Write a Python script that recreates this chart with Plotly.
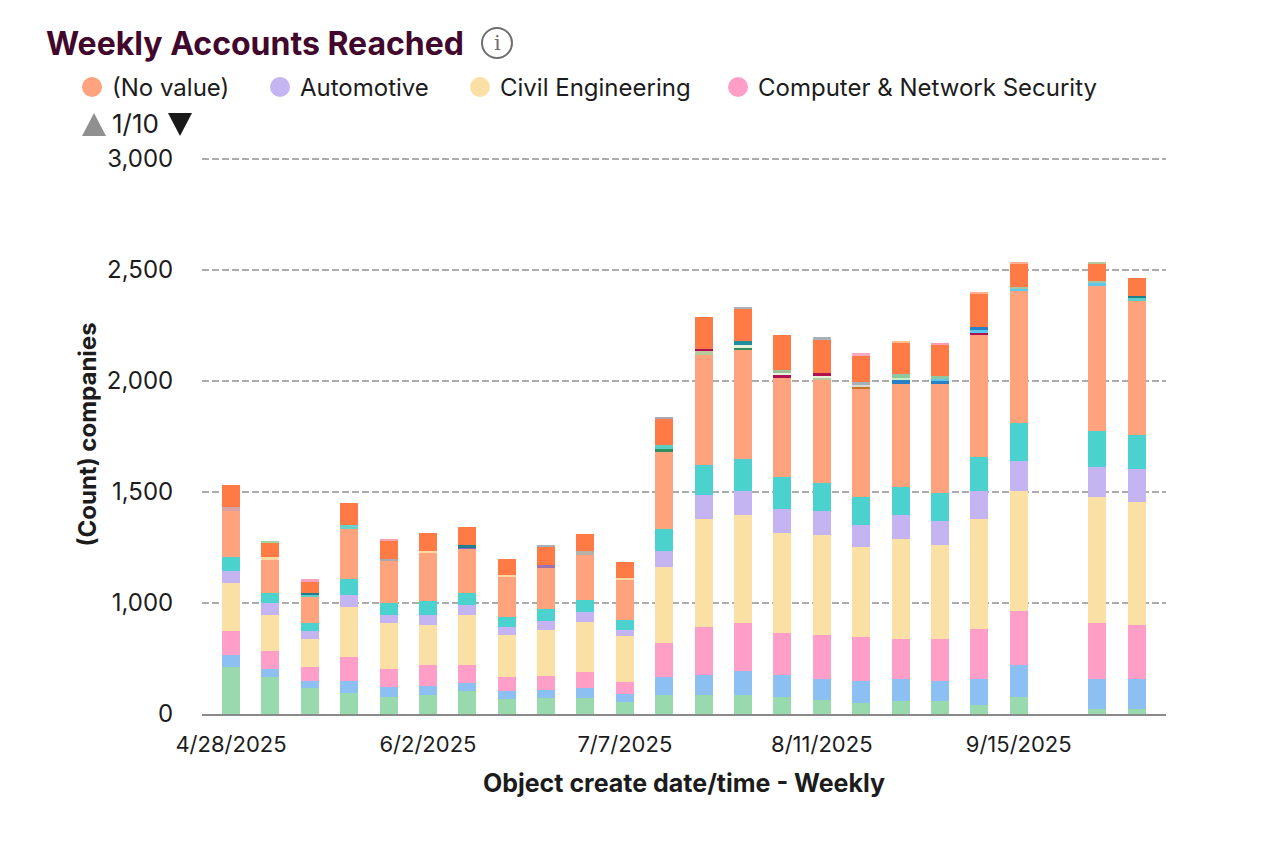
import plotly.graph_objects as go

weeks = ["4/28/2025","5/5/2025","5/12/2025","5/19/2025","5/26/2025","6/2/2025","6/9/2025","6/16/2025",
         "6/23/2025","6/30/2025","7/7/2025","7/14/2025","7/21/2025","7/28/2025","8/4/2025","8/11/2025",
         "8/18/2025","8/25/2025","9/1/2025","9/8/2025","9/15/2025","9/22/2025","9/29/2025","10/6/2025"]
shown_weeks = ["4/28/2025","6/2/2025","7/7/2025","8/11/2025","9/15/2025"]

green = [710,666,618,594,576,586,604,568,574,574,556,586,586,586,576,564,550,558,558,540,576,None,522,522]
blue = [56,36,30,54,45,42,36,36,36,45,36,81,90,108,99,93,99,99,90,117,144,None,135,135]
computer_security = [108,81,63,108,81,93,81,63,63,72,54,153,216,216,189,198,198,180,189,225,243,None,252,243]
civil_engineering = [216,162,126,225,207,180,225,189,206,225,207,342,486,486,450,450,405,450,423,495,540,None,567,555]
automotive = [54,54,36,54,36,45,45,36,38,45,27,72,108,108,108,108,99,108,108,126,135,None,136,147]
teal = [63,45,36,72,54,63,54,45,54,54,45,99,135,144,144,126,126,126,126,154,172,None,161,156]
no_value = [208,153,117,225,189,216,198,180,188,202,180,348,495,490,449,464,485,467,494,548,594,None,657,601]
minor_a = [18,9,9,18,12,9,9,9,14,15,9,12,18,14,12,12,12,18,12,10,12,None,12,16]
minor_b = [0,0,9,0,0,0,9,0,0,0,0,18,9,9,9,9,9,9,9,15,9,None,9,10]
minor_c = [0,0,0,0,0,0,0,0,0,0,0,0,0,21,12,10,12,15,12,12,0,None,0,0]
orange = [98,63,54,99,78,81,81,72,78,80,72,117,144,141,157,153,122,140,140,152,104,None,78,80]
minor_top = [0,9,9,0,9,0,0,0,9,0,0,9,0,9,0,9,9,9,9,9,9,None,9,0]

minor_a_colors = ["#D9A3A3","#FCD9A0","#5CCFC8","#6CCFC8","#A8A8B0","#FCD9A0","#8A62C4","#FCD9A0","#A070B0","#B5B0A8","#FCD9A0",
                  "#2F8F5F","#B9C99C","#2F8F5F","#B0104F","#B9C99C","#C8742A","#2A80C4","#2A80C4","#B0104F","#5CC8EC","#5CC8EC","#5CC8EC","#5CCFC8"]
minor_b_colors = ["#FFFFFF","#FFFFFF","#1F7F8F","#FFFFFF","#FFFFFF","#FFFFFF","#1F7F8F","#FFFFFF","#FFFFFF","#FFFFFF","#FFFFFF",
                  "#5CCFC8","#B0104F","#E8F0D8","#E8F0D8","#E8F0D8","#D8DCD0","#C8EBC8","#5CC8EC","#5CC8EC","#9CC8A8","#FFFFFF","#9CC8A8","#1F7F8F"]
minor_c_colors = ["#FFFFFF"]*13 + ["#1F8F9F","#9CC09C","#B0104F","#A8B0B8","#8CC8A0","#8CC8A0","#2A80C4"] + ["#FFFFFF"]*4
minor_top_colors = ["#FFFFFF","#9CD8A0","#F8A0C0","#FFFFFF","#F8A0B0","#FFFFFF","#FFFFFF","#FFFFFF","#A8B0B8","#FFFFFF","#FFFFFF",
                    "#A8A8B8","#FFFFFF","#A8B0B8","#FFFFFF","#A8B0B8","#F8A8C0","#FFC090","#F8A0B0","#FFB090","#FFB090","#FFFFFF","#B9C99C","#FFFFFF"]

y_tick_positions = [500,1000,1500,2000,2500,3000]
y_tick_labels = ["0","1,000","1,500","2,000","2,500","3,000"]

FONT = "Inter"
INK = "#1c1c1c"

series = [
    ("Green", green, "#98D9AE"),
    ("Blue", blue, "#8CC0F2"),
    ("Computer & Network Security", computer_security, "#FF9FC8"),
    ("Civil Engineering", civil_engineering, "#FBE0A6"),
    ("Automotive", automotive, "#C4B5F2"),
    ("Teal", teal, "#4BD2CE"),
    ("(No value)", no_value, "#FFA27E"),
    ("Minor A", minor_a, minor_a_colors),
    ("Minor B", minor_b, minor_b_colors),
    ("Minor C", minor_c, minor_c_colors),
    ("Orange", orange, "#FF7A45"),
    ("Minor top", minor_top, minor_top_colors),
]

fig = go.Figure()
for name, vals, col in series:
    fig.add_trace(go.Bar(x=weeks, y=vals, name=name, marker=dict(color=col, line=dict(width=0))))

L, R, T, B = 202, 1166, 155, 714
def px(x): return (x - L) / (R - L)
def py(y): return (B - y) / (B - T)

def text(x, y, s, size, color=INK, anchor="left"):
    fig.add_annotation(xref="paper", yref="paper", x=px(x - 3), y=py(y), text=s, showarrow=False,
                       xanchor=anchor, yanchor="middle", font=dict(family=FONT, size=size, color=color))

text(47, 44, "<b>Weekly Accounts Reached</b>", 32, "#42072C")
fig.add_shape(type="circle", xref="paper", yref="paper", x0=px(482), x1=px(512), y0=py(58), y1=py(28),
              line=dict(color="#6E6E6E", width=2))
fig.add_annotation(xref="paper", yref="paper", x=px(497), y=py(43), text="i", showarrow=False,
                   xanchor="center", yanchor="middle",
                   font=dict(family="DejaVu Serif", size=21, color="#6E6E6E"))

legend_names = ["(No value)", "Automotive", "Civil Engineering", "Computer & Network Security"]
legend_colors = ["#FFA27E", "#C4B5F2", "#FBE0A6", "#FF9FC8"]
legend_dot_x = [92, 280, 480, 738]
for nm, col, cx in zip(legend_names, legend_colors, legend_dot_x):
    fig.add_shape(type="circle", xref="paper", yref="paper", x0=px(cx-10), x1=px(cx+10), y0=py(97), y1=py(77),
                  fillcolor=col, line=dict(width=0))
    text(cx + 21, 87, nm, 24)

fig.add_shape(type="path", xref="paper", yref="paper", line=dict(width=0), fillcolor="#909090",
              path=f"M {px(82)} {py(136)} L {px(106)} {py(136)} L {px(94)} {py(113)} Z")
text(113, 124, "1/10", 26)
fig.add_shape(type="path", xref="paper", yref="paper", line=dict(width=0), fillcolor="#1A1A1A",
              path=f"M {px(168)} {py(113)} L {px(192)} {py(113)} L {px(180)} {py(136)} Z")

fig.update_layout(
    width=1286, height=848, barmode="stack", bargap=0.543, showlegend=False,
    paper_bgcolor="white", plot_bgcolor="white",
    margin=dict(l=L, r=1286-R, t=T, b=848-B, autoexpand=False),
    font=dict(family=FONT, color=INK),
    xaxis=dict(type="category", categoryorder="array", categoryarray=weeks, range=[-0.736, 23.74],
               tickmode="array", tickvals=shown_weeks, ticktext=shown_weeks, tickangle=0,
               tickfont=dict(size=22), ticks="outside", ticklen=10, tickcolor="rgba(0,0,0,0)",
               showgrid=False, showline=True, linecolor="#8A8A8A", linewidth=2,
               title=dict(text="<b>Object create date/time - Weekly</b>", font=dict(size=25), standoff=18)),
    yaxis=dict(range=[500, 3018], tickmode="array", tickvals=y_tick_positions, ticktext=y_tick_labels,
               tickfont=dict(size=24), ticks="outside", ticklen=23, tickcolor="rgba(0,0,0,0)",
               showgrid=True, gridcolor="#ACACAC", griddash="7px,3px", gridwidth=1.5, zeroline=False, showline=False,
               title=dict(text="<b>(Count) companies</b>", font=dict(size=24), standoff=3)),
)

fig.write_html("out.html", config=dict(displayModeBar=False), post_script="document.body.style.margin='0';")
